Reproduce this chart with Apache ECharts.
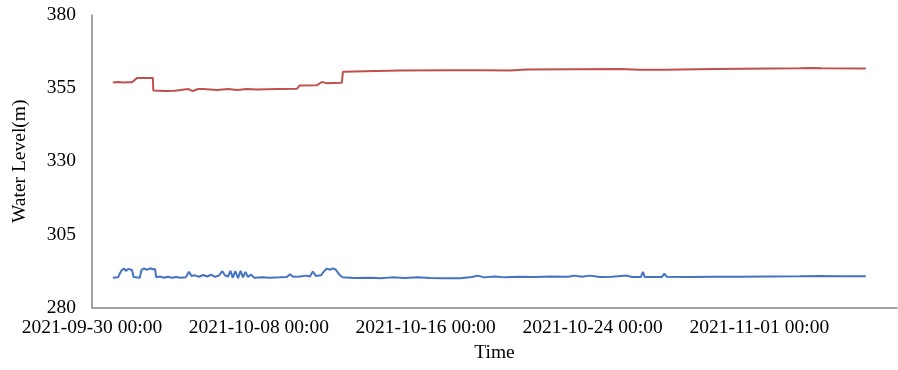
<!DOCTYPE html>
<html>
<head>
<meta charset="utf-8">
<script src="https://cdn.jsdelivr.net/npm/echarts@6/dist/echarts.min.js"></script>
<style>
  html, body { margin: 0; padding: 0; background: #ffffff; }
  #chart { width: 898px; height: 370px; }
</style>
</head>
<body>
<div id="chart"></div>
<script>
// Upper gauge (red) readings
const redTimes = [
  '2021-10-01 00:00', '2021-10-01 06:00', '2021-10-01 12:00', '2021-10-01 18:00', '2021-10-01 22:00',
  '2021-10-02 04:00', '2021-10-02 22:00', '2021-10-02 22:30', '2021-10-03 12:00', '2021-10-03 23:30',
  '2021-10-04 01:30', '2021-10-04 14:30', '2021-10-04 20:00', '2021-10-05 02:00', '2021-10-05 08:00',
  '2021-10-05 09:00', '2021-10-06 00:00', '2021-10-06 01:00', '2021-10-06 12:30', '2021-10-06 13:30',
  '2021-10-06 23:00', '2021-10-07 00:00', '2021-10-07 10:00', '2021-10-07 11:00', '2021-10-07 22:00',
  '2021-10-08 21:00', '2021-10-09 20:00', '2021-10-09 23:00', '2021-10-10 19:00', '2021-10-11 00:30',
  '2021-10-11 06:00', '2021-10-11 23:30', '2021-10-12 00:45', '2021-10-14 18:00', '2021-10-17 04:00',
  '2021-10-18 17:00', '2021-10-18 18:00', '2021-10-20 01:00', '2021-10-20 20:30', '2021-10-25 07:30',
  '2021-10-26 06:30', '2021-10-27 11:00', '2021-10-29 20:00', '2021-10-29 21:00', '2021-11-02 22:30',
  '2021-11-03 12:00', '2021-11-04 00:00', '2021-11-06 02:30'
];
const redLevels = [
  356.9, 357.1, 356.9, 357.0, 357.0,
  358.5, 358.5, 354.2, 354.0, 354.1,
  354.7, 354.7, 354.0, 354.7, 354.7,
  354.4, 354.4, 354.7, 354.7, 354.4,
  354.4, 354.7, 354.7, 354.4, 354.5,
  354.7, 354.8, 355.9, 356.0, 357.1,
  356.7, 356.8, 360.6, 361.0, 361.1,
  361.1, 360.9, 361.0, 361.4, 361.5,
  361.3, 361.3, 361.5, 361.7, 361.8,
  361.9, 361.8, 361.7
];

// Lower gauge (blue) readings
const blueTimes = [
  '2021-10-01 00:00', '2021-10-01 06:00', '2021-10-01 08:00', '2021-10-01 10:30', '2021-10-01 13:00',
  '2021-10-01 15:00', '2021-10-01 17:30', '2021-10-01 19:40', '2021-10-01 22:00', '2021-10-01 23:50',
  '2021-10-02 07:00', '2021-10-02 09:00', '2021-10-02 12:00', '2021-10-02 15:00', '2021-10-02 19:00',
  '2021-10-02 22:00', '2021-10-03 00:30', '2021-10-03 02:00', '2021-10-03 06:00', '2021-10-03 11:00',
  '2021-10-03 15:00', '2021-10-03 20:00', '2021-10-04 00:40', '2021-10-04 06:30', '2021-10-04 12:00',
  '2021-10-04 15:30', '2021-10-04 18:30', '2021-10-04 22:30', '2021-10-05 03:00', '2021-10-05 08:00',
  '2021-10-05 12:30', '2021-10-05 17:00', '2021-10-05 21:30', '2021-10-06 02:00', '2021-10-06 06:00',
  '2021-10-06 09:00', '2021-10-06 12:30', '2021-10-06 15:20', '2021-10-06 18:00', '2021-10-06 21:00',
  '2021-10-07 00:00', '2021-10-07 03:00', '2021-10-07 05:45', '2021-10-07 08:40', '2021-10-07 11:30',
  '2021-10-07 15:00', '2021-10-07 18:30', '2021-10-08 03:40', '2021-10-08 12:45', '2021-10-09 00:15',
  '2021-10-09 08:20', '2021-10-09 11:45', '2021-10-09 15:20', '2021-10-09 23:20', '2021-10-10 06:15',
  '2021-10-10 10:50', '2021-10-10 14:10', '2021-10-10 17:40', '2021-10-10 23:30', '2021-10-11 03:00',
  '2021-10-11 06:20', '2021-10-11 09:50', '2021-10-11 13:20', '2021-10-11 16:40', '2021-10-11 20:10',
  '2021-10-12 00:15', '2021-10-12 14:40', '2021-10-13 08:00', '2021-10-13 19:30', '2021-10-14 09:00',
  '2021-10-15 00:00', '2021-10-15 15:00', '2021-10-16 04:50', '2021-10-16 22:00', '2021-10-17 15:20',
  '2021-10-18 05:10', '2021-10-18 12:00', '2021-10-18 19:00', '2021-10-19 07:40', '2021-10-19 19:10',
  '2021-10-20 12:30', '2021-10-21 05:45', '2021-10-21 23:00', '2021-10-22 19:40', '2021-10-23 03:40',
  '2021-10-23 11:45', '2021-10-23 21:00', '2021-10-24 08:30', '2021-10-24 22:20', '2021-10-25 15:30',
  '2021-10-25 21:20', '2021-10-26 07:40', '2021-10-26 10:00', '2021-10-26 12:10', '2021-10-27 07:40',
  '2021-10-27 10:40', '2021-10-27 13:30', '2021-10-28 16:00', '2021-10-29 20:50', '2021-10-31 01:30',
  '2021-11-01 12:00', '2021-11-02 22:30', '2021-11-03 21:40', '2021-11-04 20:40', '2021-11-06 02:30'
];
const blueLevels = [
  290.2, 290.3, 291.6, 292.9, 293.3,
  292.5, 293.2, 293.4, 292.8, 290.4,
  290.2, 292.9, 293.4, 292.9, 293.4,
  293.1, 293.2, 290.3, 290.6, 290.2,
  290.5, 290.2, 290.4, 290.2, 290.3,
  292.2, 290.8, 291.0, 290.5, 291.1,
  290.6, 291.2, 290.5, 290.9, 292.4,
  291.0, 290.6, 292.5, 290.2, 292.4,
  290.0, 292.5, 290.3, 292.2, 290.4,
  291.3, 290.2, 290.3, 290.2, 290.3,
  290.4, 291.4, 290.5, 290.6, 290.9,
  290.6, 292.3, 290.8, 291.0, 292.4,
  293.3, 292.9, 293.4, 292.9, 291.4,
  290.3, 290.1, 290.2, 290.0, 290.3,
  290.1, 290.3, 290.1, 290.0, 290.0,
  290.4, 290.9, 290.3, 290.6, 290.3,
  290.5, 290.4, 290.6, 290.5, 290.9,
  290.5, 290.9, 290.4, 290.5, 290.9,
  290.4, 290.4, 292.2, 290.4, 290.4,
  291.6, 290.5, 290.4, 290.5, 290.5,
  290.6, 290.7, 290.8, 290.7, 290.7
];

// Axis tick labels, one every 8 days from the axis origin
const xTickLabels = ['2021-09-30 00:00', '2021-10-08 00:00', '2021-10-16 00:00', '2021-10-24 00:00', '2021-11-01 00:00'];
const yTicks = [280, 305, 330, 355, 380];

const DAY = 86400000;
function parseStamp(s) {
  const [d, t] = s.split(' ');
  const [Y, M, D] = d.split('-').map(Number);
  const [h, m] = t.split(':').map(Number);
  return Date.UTC(Y, M - 1, D, h, m);
}
const origin = parseStamp(xTickLabels[0]);
const toDays = s => (parseStamp(s) - origin) / DAY;
const pairs = (times, vals) => times.map((t, i) => [toDays(t), vals[i]]);

const serif = '"Liberation Serif", "Times New Roman", "DejaVu Serif", serif';
const axisGrey = '#858585';

const chart = echarts.init(document.getElementById('chart'), null, { renderer: 'canvas' });
chart.setOption({
  animation: false,
  backgroundColor: '#ffffff',
  grid: { left: 92, right: 1, top: 15, bottom: 62.5, containLabel: false },
  xAxis: {
    type: 'value',
    min: 0,
    max: 38.6,
    interval: 8,
    name: 'Time',
    nameLocation: 'middle',
    nameGap: 35,
    nameTextStyle: { fontFamily: serif, fontSize: 19.5, color: '#000' },
    axisLine: { show: true, lineStyle: { color: axisGrey, width: 1.5 } },
    axisTick: { show: false },
    splitLine: { show: false },
    axisLabel: {
      showMaxLabel: false,
      margin: 10,
      fontFamily: serif,
      fontSize: 19.5,
      color: '#000',
      formatter: v => {
        const i = Math.round(v / 8);
        return (Math.abs(v - i * 8) < 1e-6 && xTickLabels[i]) ? xTickLabels[i] : '';
      }
    }
  },
  yAxis: {
    type: 'value',
    min: yTicks[0],
    max: yTicks[yTicks.length - 1],
    interval: 25,
    name: 'Water Level(m)',
    nameLocation: 'middle',
    nameGap: 62,
    nameTextStyle: { fontFamily: serif, fontSize: 19.5, color: '#000' },
    axisLine: { show: true, lineStyle: { color: axisGrey, width: 1.5 } },
    axisTick: { show: false },
    splitLine: { show: false },
    axisLabel: { margin: 16, fontFamily: serif, fontSize: 19.5, color: '#000' }
  },
  series: [
    {
      type: 'line',
      data: pairs(redTimes, redLevels),
      showSymbol: false,
      lineStyle: { color: '#C0504D', width: 2 },
      itemStyle: { color: '#C0504D' }
    },
    {
      type: 'line',
      data: pairs(blueTimes, blueLevels),
      showSymbol: false,
      lineStyle: { color: '#4472C4', width: 2 },
      itemStyle: { color: '#4472C4' }
    }
  ]
});
</script>
</body>
</html>
